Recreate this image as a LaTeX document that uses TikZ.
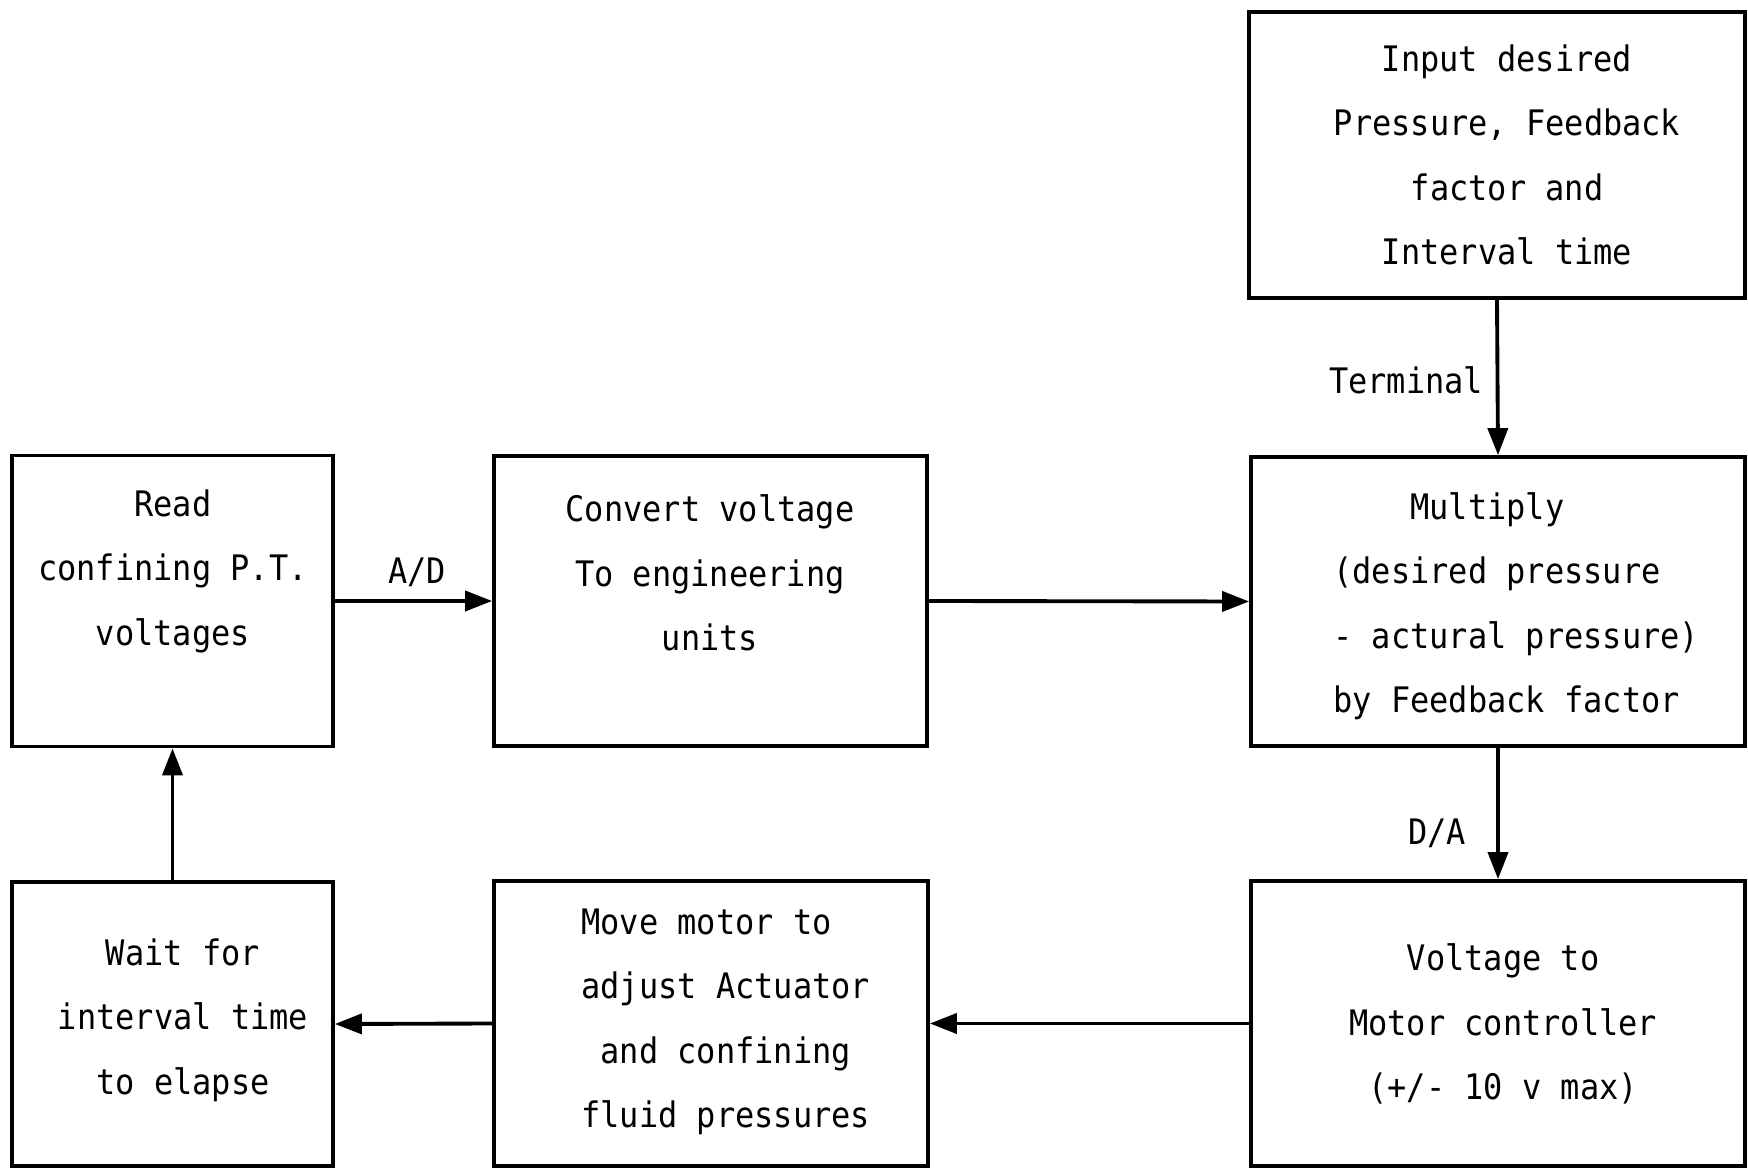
\documentclass[tikz,border=0pt]{standalone}
\usepackage{fontspec}
\newfontfamily\plotfont{DejaVu Sans Mono}[FakeStretch=0.91]
\usetikzlibrary{arrows.meta}
\begin{document}
\begin{tikzpicture}[x=0.02cm,y=-0.02cm,
  blk/.style={draw,rectangle,line width=2.2pt,inner sep=0pt},
  txt/.style={align=center,inner sep=0pt,font=\plotfont\fontsize{20}{36.7}\selectfont},
  ltxt/.style={align=left,inner sep=0pt,font=\plotfont\fontsize{20}{36.7}\selectfont},
  lbl/.style={inner sep=0pt,font=\plotfont\fontsize{20}{24}\selectfont},
  arr/.style={line width=2.2pt,-{Triangle[length=5.4mm,width=4mm]}}]
\useasboundingbox (0,0) rectangle (1748,1168);
% boxes
\node[blk,minimum width=9.92cm,minimum height=5.72cm] (input) at (1497,155) {};
\node[blk,minimum width=6.42cm,minimum height=5.82cm] (read) at (172.5,601) {};
\node[blk,minimum width=8.66cm,minimum height=5.80cm] (convert) at (710.5,601) {};
\node[blk,minimum width=9.88cm,minimum height=5.78cm] (multiply) at (1498,601.5) {};
\node[blk,minimum width=6.42cm,minimum height=5.68cm] (wait) at (172.5,1024) {};
\node[blk,minimum width=8.68cm,minimum height=5.70cm] (move) at (711,1023.5) {};
\node[blk,minimum width=9.88cm,minimum height=5.70cm] (voltage) at (1498,1023.5) {};
% texts
\node[txt] (tinput) at (1507,155) {Input desired\\Pressure, Feedback\\factor and\\Interval time};
\node[txt] (tread) at (173,571) {Read\\confining P.T.\\voltages};
\node[txt] (tconvert) at (710,573) {Convert voltage\\To engineering\\units};
\node[ltxt,anchor=west] (tmultiply) at (1333,606) {\ \ \ \ Multiply\\(desired pressure\\- actural pressure)\\by Feedback factor};
\node[txt] (twait) at (183,1020) {Wait for\\interval time\\to elapse};
\node[ltxt,anchor=west] (tmove) at (581,1022) {Move motor to\\adjust Actuator\\\ and confining\\fluid pressures};
\node[txt] (tvoltage) at (1503,1024) {Voltage to\\Motor controller\\(+/- 10 v max)};
% connector labels
\node[lbl] (lad) at (417,572) {A/D};
\node[lbl] (lterm) at (1406,380) {Terminal};
\node[lbl] (lda) at (1437,833) {D/A};
% connectors
\draw[arr] (read.east) -- (convert.west);
\draw[arr] (convert.east) -- (multiply.west);
\draw[arr] (input.south) -- (multiply.north);
\draw[arr] (multiply.south) -- (voltage.north);
\draw[arr] (voltage.west) -- (move.east);
\draw[arr] (move.west) -- (wait.east);
\draw[arr] (wait.north) -- (read.south);
\end{tikzpicture}
\end{document}
